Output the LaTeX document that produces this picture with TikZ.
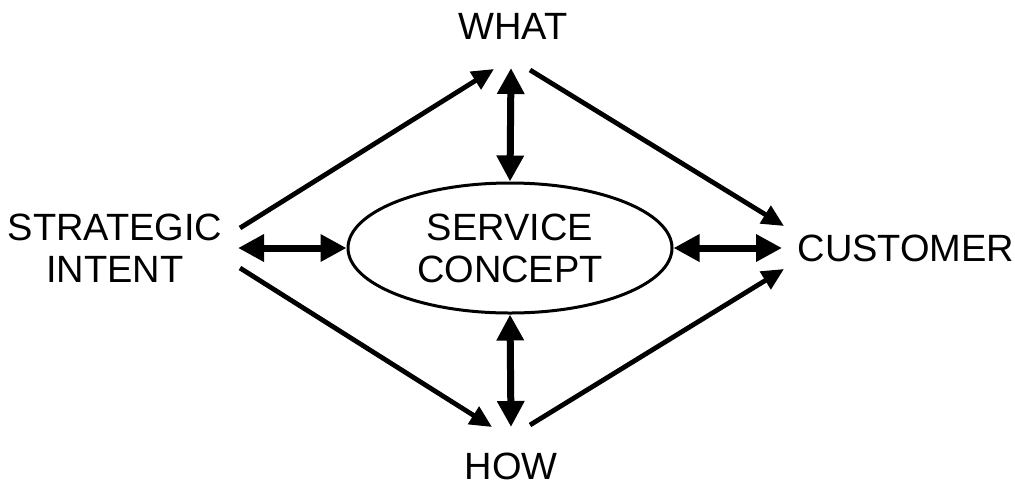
\documentclass[tikz,border=0pt]{standalone}
\usepackage{fontspec}
\setmainfont{Liberation Sans}
\usetikzlibrary{arrows.meta,shapes.geometric}
\begin{document}
\begin{tikzpicture}[x=0.5pt,y=-0.5pt,
  lbl/.style={inner sep=0pt,align=center,font=\fontsize{19pt}{21pt}\selectfont},
  dbl/.style={line width=3.5pt,{Triangle[length=13pt,width=13pt]}-{Triangle[length=13pt,width=13pt]},shorten <=0pt,shorten >=0pt},
  sgl/.style={line width=2.4pt,-{Triangle[length=11pt,width=10pt]}}]
\useasboundingbox (0,0) rectangle (1015,488);
\node[lbl] (what) at (513,26) {WHAT};
\node[lbl] (how) at (511,466) {HOW};
\node[lbl] (strat) at (115,248) {STRATEGIC\\INTENT};
\node[lbl] (cust) at (906,248) {CUSTOMER};
\node[draw,line width=1.5pt,ellipse,minimum width=162pt,minimum height=65pt,inner sep=0pt,lbl] (sc) at (510,248) {SERVICE\\CONCEPT};
% endpoint coordinates
\coordinate (wtop) at (511,68);
\coordinate (hbot) at (511,427);
\coordinate (sl) at (238,248);
\coordinate (cr) at (782,248);
\coordinate (s1) at (240,228);
\coordinate (s2) at (240,268);
\coordinate (w1) at (494,69);
\coordinate (w2) at (530,70);
\coordinate (h1) at (492,427);
\coordinate (h2) at (530,425);
\coordinate (c1) at (784,226);
\coordinate (c2) at (784,269);
\draw[dbl] (wtop) -- (sc.north);
\draw[dbl] (sc.south) -- (hbot);
\draw[dbl] (sl) -- (sc.west);
\draw[dbl] (sc.east) -- (cr);
\draw[sgl] (s1) -- (w1);
\draw[sgl] (s2) -- (h1);
\draw[sgl] (w2) -- (c1);
\draw[sgl] (h2) -- (c2);
\end{tikzpicture}
\end{document}
